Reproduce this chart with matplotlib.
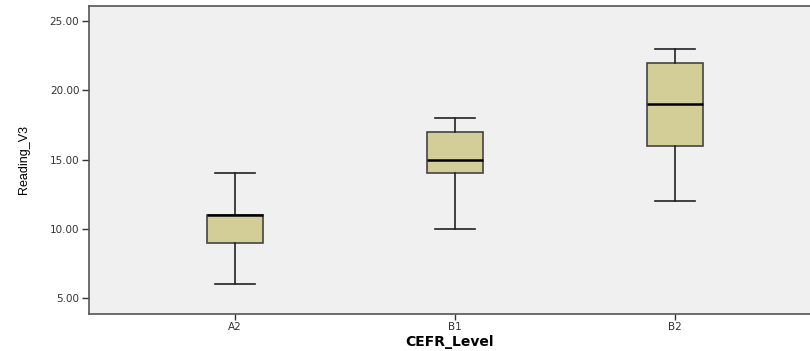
import matplotlib
matplotlib.use('Agg')
import matplotlib.pyplot as plt

# Box summary per CEFR level
levels = ['A2', 'B1', 'B2']
whisker_low = [6, 10, 12]
q1 = [9, 14, 16]
median = [11, 15, 19]
q3 = [11, 17, 22]
whisker_high = [14, 18, 23]

plt.rcParams['font.family'] = ['DejaVu Sans']

stats = []
for i, lev in enumerate(levels):
    stats.append({'label': lev, 'whislo': whisker_low[i], 'q1': q1[i],
                  'med': median[i], 'q3': q3[i], 'whishi': whisker_high[i],
                  'fliers': []})

fig = plt.figure(figsize=(8.1, 3.51), dpi=100)
ax = fig.add_axes([89 / 810, 1 - 314 / 351, 721 / 810, 308 / 351])
ax.set_facecolor('#f0f0f0')

ax.bxp(stats, positions=[1, 2, 3], widths=0.255, patch_artist=True,
       boxprops=dict(facecolor='#d3ce97', edgecolor='#444444', linewidth=1.2),
       medianprops=dict(color='black', linewidth=1.8),
       whiskerprops=dict(color='#222222', linewidth=1.2),
       capprops=dict(color='#222222', linewidth=1.2),
       capwidths=0.18)

ax.set_xlim(0.336, 0.336 + 721 / 220)
ax.set_ylim(3.85, 26.08)
ax.set_yticks([5, 10, 15, 20, 25])
ax.set_yticklabels(['%.2f' % v for v in [5, 10, 15, 20, 25]])
ax.tick_params(axis='both', labelsize=7.5, length=5, width=1, color='#333333',
               labelcolor='#333333', pad=2)
ax.tick_params(axis='x', length=4)

for side in ['left', 'bottom', 'top']:
    ax.spines[side].set_color('#555555')
    ax.spines[side].set_linewidth(1.2)
ax.spines['right'].set_visible(False)

ax.set_xlabel('CEFR_Level', fontsize=10, fontweight='bold', labelpad=2)
ax.set_ylabel('Reading_V3', fontsize=9, labelpad=14,
              fontfamily=['Liberation Sans', 'DejaVu Sans'])

fig.savefig('out.png', dpi=100)
